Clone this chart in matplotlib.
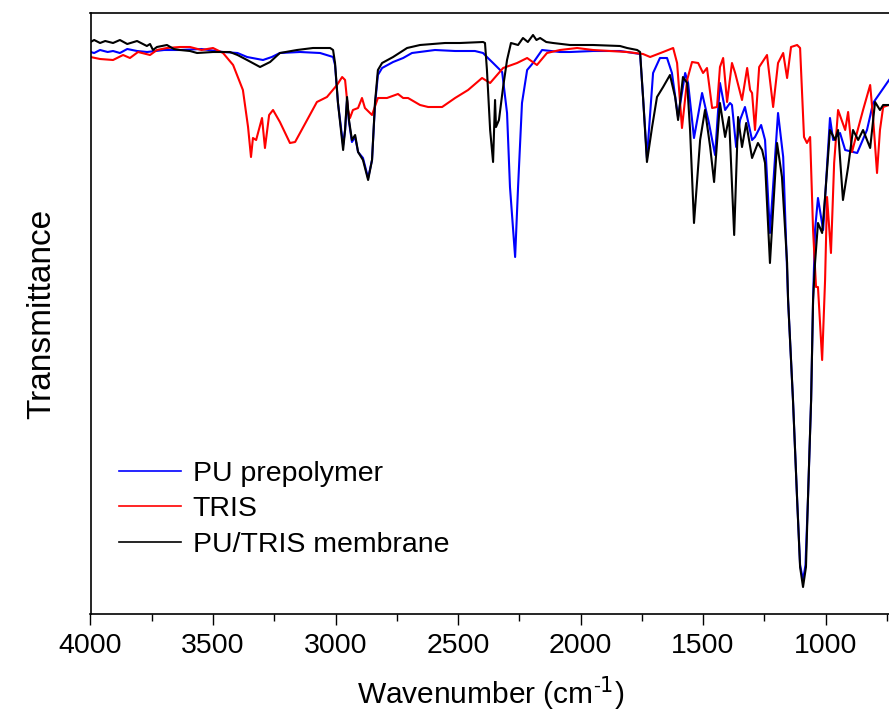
import matplotlib
matplotlib.use("Agg")
import matplotlib.pyplot as plt
from matplotlib.ticker import MultipleLocator

plt.rcParams['font.family'] = ['Liberation Sans', 'DejaVu Sans']

# wavenumber (cm-1) and transmittance (a.u.)
pu_wn = [4000, 3985, 3961, 3930, 3908, 3880, 3850, 3810, 3769, 3700, 3635, 3547, 3459, 3400, 3361,
         3296, 3260, 3227, 3145, 3063, 3010, 3002, 2990, 2969, 2961, 2953, 2945, 2933, 2920, 2908,
         2888, 2867, 2851, 2839, 2827, 2810, 2765, 2724, 2688, 2594, 2512, 2431, 2398, 2378, 2357,
         2320, 2300, 2288, 2267, 2255, 2239, 2218, 2194, 2157, 2084, 2043, 1949, 1839, 1757, 1745,
         1729, 1704, 1676, 1647, 1627, 1602, 1573, 1561, 1537, 1504, 1476, 1451, 1431, 1410, 1390,
         1382, 1365, 1349, 1329, 1300, 1288, 1263, 1247, 1227, 1194, 1173, 1153, 1133, 1116, 1104,
         1092, 1082, 1072, 1059, 1051, 1043, 1031, 1010, 982, 969, 941, 920, 871, 831, 806, 741]
pu_t = [562, 561, 564, 562, 563, 561, 565, 563, 562, 564, 564, 565, 562, 561, 557,
        554, 557, 561, 562, 561, 557, 549, 511, 469, 484, 514, 492, 472, 477, 462,
        456, 436, 454, 509, 539, 546, 552, 556, 561, 564, 563, 563, 561, 556, 551,
        542, 501, 427, 357, 427, 511, 544, 551, 564, 562, 562, 563, 563, 560, 517,
        456, 541, 556, 556, 541, 497, 541, 531, 476, 521, 491, 459, 531, 504, 511,
        509, 467, 494, 507, 474, 477, 489, 474, 381, 501, 457, 314, 214, 114, 49,
        34, 49, 114, 214, 314, 384, 416, 384, 496, 474, 481, 464, 461, 484, 511, 534]

tris_wn = [4000, 3961, 3908, 3867, 3839, 3806, 3757, 3729, 3688, 3635, 3594, 3547, 3500, 3459, 3418,
           3378, 3357, 3345, 3337, 3324, 3300, 3288, 3271, 3255, 3227, 3186, 3165, 3116, 3076, 3035,
           2994, 2973, 2961, 2949, 2941, 2929, 2908, 2892, 2880, 2851, 2827, 2790, 2745, 2724, 2704,
           2655, 2622, 2565, 2512, 2459, 2402, 2369, 2316, 2259, 2218, 2178, 2137, 2084, 2014, 1949,
           1810, 1745, 1716, 1663, 1622, 1606, 1586, 1565, 1545, 1520, 1500, 1484, 1463, 1443, 1431,
           1418, 1402, 1382, 1369, 1341, 1320, 1308, 1300, 1288, 1271, 1239, 1214, 1194, 1173, 1157,
           1141, 1116, 1104, 1088, 1076, 1063, 1051, 1039, 1031, 1014, 1002, 994, 978, 965, 949,
           920, 908, 892, 871, 847, 818, 806, 790, 778, 765, 741]
tris_t = [557, 555, 554, 559, 556, 562, 559, 564, 566, 567, 567, 564, 566, 561, 549,
          524, 487, 457, 476, 474, 496, 466, 499, 504, 492, 471, 472, 494, 512, 517,
          529, 537, 534, 504, 496, 504, 506, 516, 506, 499, 516, 516, 520, 516, 516,
          509, 507, 507, 516, 524, 536, 531, 546, 551, 556, 549, 561, 564, 566, 564,
          562, 560, 557, 562, 566, 551, 486, 534, 552, 551, 541, 546, 506, 507, 547,
          556, 512, 551, 541, 514, 546, 524, 521, 484, 547, 559, 507, 551, 561, 536,
          567, 569, 566, 477, 471, 477, 384, 327, 327, 254, 334, 417, 361, 451, 504,
          484, 502, 462, 482, 504, 529, 496, 441, 484, 507, 509]

mem_wn = [4000, 3985, 3961, 3940, 3908, 3880, 3850, 3810, 3770, 3757, 3745, 3729, 3688, 3660, 3635,
          3594, 3565, 3500, 3431, 3400, 3361, 3308, 3267, 3227, 3157, 3092, 3022, 3010, 3002, 2990,
          2969, 2961, 2953, 2945, 2933, 2920, 2908, 2888, 2867, 2851, 2839, 2827, 2810, 2765, 2708,
          2655, 2553, 2492, 2398, 2390, 2382, 2369, 2357, 2349, 2345, 2333, 2316, 2300, 2284, 2255,
          2235, 2215, 2194, 2180, 2165, 2140, 2112, 2043, 1949, 1839, 1810, 1769, 1757, 1745, 1729,
          1708, 1688, 1663, 1635, 1614, 1602, 1582, 1565, 1553, 1537, 1512, 1492, 1471, 1455, 1431,
          1410, 1394, 1373, 1357, 1341, 1324, 1300, 1276, 1259, 1247, 1227, 1198, 1178, 1157, 1153,
          1133, 1116, 1104, 1092, 1080, 1072, 1059, 1051, 1043, 1031, 1014, 1002, 982, 961, 949,
          929, 908, 888, 867, 847, 818, 798, 778, 765, 741]
mem_t = [572, 574, 571, 573, 571, 574, 570, 573, 568, 570, 564, 567, 569, 565, 564,
         563, 561, 562, 562, 559, 554, 547, 552, 561, 564, 566, 566, 564, 551, 511,
         464, 484, 517, 494, 474, 479, 462, 454, 434, 454, 511, 544, 551, 557, 566,
         569, 571, 571, 572, 571, 544, 484, 452, 514, 487, 494, 527, 554, 571, 569,
         576, 572, 579, 574, 576, 572, 571, 569, 569, 568, 566, 564, 562, 517, 452,
         487, 517, 527, 539, 517, 494, 537, 531, 484, 391, 474, 504, 467, 432, 511,
         477, 497, 379, 497, 467, 491, 456, 471, 464, 451, 351, 471, 437, 351, 314,
         214, 114, 47, 27, 47, 114, 214, 314, 351, 391, 381, 417, 484, 474, 484,
         414, 447, 484, 474, 484, 466, 512, 504, 509, 509]

labels = ['PU prepolymer', 'TRIS', 'PU/TRIS membrane']
colors = ['#0000ff', '#ff0000', '#000000']

fig = plt.figure(figsize=(8.89, 7.2), dpi=100)
ax = fig.add_axes([90.5 / 889, 1 - 614 / 720, 800 / 889, 601 / 720])

for wn, t, lab, c in zip([pu_wn, tris_wn, mem_wn], [pu_t, tris_t, mem_t], labels, colors):
    ax.plot(wn, t, color=c, lw=1.5, label=lab)

ax.set_xlim(4000, 735)
ax.set_ylim(0, 601)
ax.xaxis.set_major_locator(MultipleLocator(500))
ax.xaxis.set_minor_locator(MultipleLocator(250))
ax.tick_params(axis='x', which='major', direction='out', length=8, width=1, labelsize=20.5, pad=6)
ax.tick_params(axis='x', which='minor', direction='out', length=5, width=1)
ax.set_yticks([])
ax.spines['right'].set_visible(False)
for s in ax.spines.values():
    s.set_linewidth(1.2)

ax.set_xlabel('Wavenumber (cm$^{\\mathregular{\u2010}1}$)', fontsize=21.5, labelpad=11)
ax.set_ylabel('Transmittance', fontsize=24, labelpad=24)

leg = ax.legend(loc='upper left', bbox_to_anchor=(0.035, 0.255), frameon=False, fontsize=20.5,
                handlelength=2.2, handletextpad=0.4, labelspacing=0.33, borderpad=0, borderaxespad=0)
for h in leg.get_lines():
    h.set_linewidth(1.2)

fig.savefig('out.png', dpi=100)
